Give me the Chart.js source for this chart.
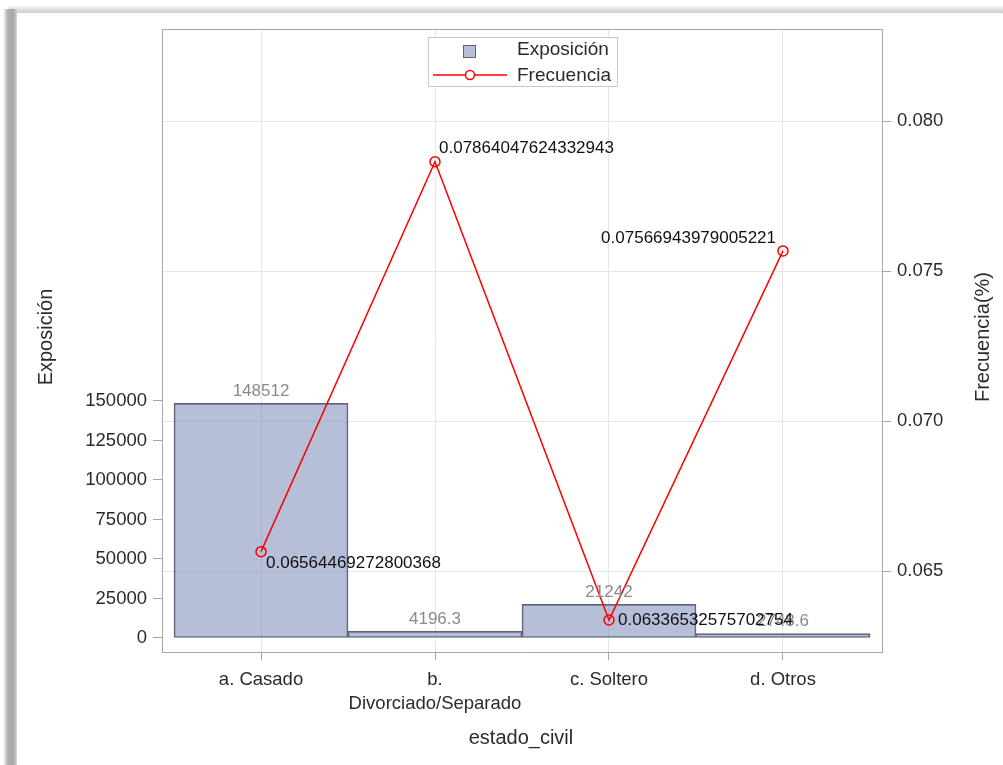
<!DOCTYPE html>
<html>
<head>
<meta charset="utf-8">
<script src="https://cdn.jsdelivr.net/npm/chart.js@4/dist/chart.umd.min.js"></script>
<style>
  html, body { margin: 0; padding: 0; background: #fff; }
  #wrap { position: relative; width: 1003px; height: 765px; overflow: hidden; }
  .shadow-top { position: absolute; left: 8px; top: 6px; width: 995px; height: 7px;
    background: linear-gradient(to bottom, #f4f4f4, #cdcdcd); }
  .shadow-left { position: absolute; left: 4px; top: 9px; width: 13px; height: 756px;
    background: linear-gradient(to right, #ececec, #b0b0b0 30%, #a8a8a8 75%, #d8d8d8); }
  canvas { position: absolute; left: 0; top: 0; }
</style>
</head>
<body>
<div id="wrap">
  <div class="shadow-top"></div>
  <div class="shadow-left"></div>
  <canvas id="chart" width="1003" height="765"></canvas>
</div>
<script>
// Exposure and claim frequency by marital status
const categories = [['a. Casado'], ['b.', 'Divorciado/Separado'], ['c. Soltero'], ['d. Otros']];
const exposicion = [148512, 4196.3, 21242, 2748.6];
const frecuencia = [0.06564469272800368, 0.07864047624332943, 0.06336532575702754, 0.07566943979005221];
const exposicionTicks = [0, 25000, 50000, 75000, 100000, 125000, 150000];
const frecuenciaTicks = [0.065, 0.070, 0.075, 0.080];

const FONT = '"Liberation Sans", Arial, sans-serif';
const FRAME = '#a3a7ab';
const GRID = '#e6e6e6';
const TEXT = '#2b2b2b';

// where each frequency label sits relative to its marker
const freqLabelPlacement = [
  { dx: 5, dy: 12, align: 'left' },
  { dx: 4, dy: -13, align: 'left' },
  { dx: 9, dy: 0, align: 'left' },
  { dx: -7, dy: -13, align: 'right' }
];

const decor = {
  id: 'decor',
  afterDatasetsDraw(chart) {
    const ctx = chart.ctx;
    ctx.save();
    ctx.textBaseline = 'middle';
    // bar value labels
    ctx.font = '17px ' + FONT;
    ctx.fillStyle = '#8a8a8a';
    ctx.textAlign = 'center';
    chart.getDatasetMeta(0).data.forEach((bar, i) => {
      ctx.fillText(String(exposicion[i]), bar.x, bar.y - 12);
    });
    // frequency labels
    ctx.fillStyle = '#111111';
    chart.getDatasetMeta(1).data.forEach((pt, i) => {
      const p = freqLabelPlacement[i];
      ctx.textAlign = p.align;
      ctx.fillText(String(frecuencia[i]), pt.x + p.dx, pt.y + p.dy);
    });
    ctx.restore();
  },
  afterDraw(chart) {
    const ctx = chart.ctx;
    const a = chart.chartArea;
    ctx.save();
    // top edge of the plot frame
    ctx.strokeStyle = FRAME;
    ctx.lineWidth = 1;
    ctx.beginPath();
    ctx.moveTo(a.left, a.top + 0.5);
    ctx.lineTo(a.right, a.top + 0.5);
    ctx.stroke();

    // legend
    const lx = 428, ly = 37, lw = 189, lh = 49;
    ctx.fillStyle = '#ffffff';
    ctx.fillRect(lx, ly, lw, lh);
    ctx.strokeStyle = '#c8c8c8';
    ctx.strokeRect(lx + 0.5, ly + 0.5, lw, lh);
    ctx.fillStyle = 'rgba(112,125,178,0.5)';
    ctx.fillRect(463, 45, 13, 13);
    ctx.strokeStyle = '#5f6373';
    ctx.strokeRect(463.5, 45.5, 12, 12);
    ctx.strokeStyle = '#ff0000';
    ctx.lineWidth = 1.5;
    ctx.beginPath();
    ctx.moveTo(433, 75);
    ctx.lineTo(507, 75);
    ctx.stroke();
    ctx.fillStyle = '#ffffff';
    ctx.beginPath();
    ctx.arc(470, 75, 4.5, 0, Math.PI * 2);
    ctx.fill();
    ctx.stroke();
    ctx.fillStyle = TEXT;
    ctx.font = '19px ' + FONT;
    ctx.textAlign = 'left';
    ctx.textBaseline = 'middle';
    ctx.fillText('Exposición', 517, 50);
    ctx.fillText('Frecuencia', 517, 76);

    // axis titles
    ctx.font = '20px ' + FONT;
    ctx.textAlign = 'center';
    ctx.fillText('estado_civil', 521, 738);
    ctx.translate(46, 337);
    ctx.rotate(-Math.PI / 2);
    ctx.fillText('Exposición', 0, 0);
    ctx.setTransform(1, 0, 0, 1, 0, 0);
    ctx.translate(983, 337);
    ctx.rotate(-Math.PI / 2);
    ctx.fillText('Frecuencia(%)', 0, 0);
    ctx.restore();
  }
};

new Chart(document.getElementById('chart'), {
  type: 'bar',
  data: {
    datasets: [
      {
        type: 'bar',
        label: 'Exposición',
        data: exposicion.map((v, i) => ({ x: i, y: v })),
        xAxisID: 'x',
        yAxisID: 'y',
        backgroundColor: 'rgba(112,125,178,0.5)',
        borderColor: '#5f6373',
        borderWidth: 1,
        borderSkipped: false,
        barPercentage: 1,
        categoryPercentage: 1,
        order: 2
      },
      {
        type: 'line',
        label: 'Frecuencia',
        data: frecuencia.map((v, i) => ({ x: i, y: v })),
        xAxisID: 'x',
        yAxisID: 'y1',
        borderColor: '#ff0000',
        borderWidth: 1.5,
        pointRadius: 5,
        pointBorderWidth: 1.5,
        pointBorderColor: '#ff0000',
        pointBackgroundColor: 'rgba(0,0,0,0)',
        tension: 0,
        order: 1
      }
    ]
  },
  options: {
    responsive: false,
    animation: false,
    devicePixelRatio: 1,
    layout: { padding: { top: 29, left: 0, right: 0, bottom: 0 } },
    plugins: { legend: { display: false }, tooltip: { enabled: false } },
    scales: {
      x: {
        type: 'linear',
        min: -0.569,
        max: 3.569,
        offset: false,
        afterBuildTicks: s => { s.ticks = categories.map((_, i) => ({ value: i })); },
        afterFit: s => { s.height = 113; },
        ticks: {
          callback: v => categories[v],
          font: { family: FONT, size: 18.5, lineHeight: 1.3 },
          color: TEXT,
          padding: 8,
          maxRotation: 0,
          autoSkip: false
        },
        grid: { offset: false, color: GRID, tickColor: FRAME, tickLength: 8, drawOnChartArea: true },
        border: { color: FRAME, width: 1 }
      },
      y: {
        type: 'linear',
        position: 'left',
        min: -8861,
        max: 385443,
        afterBuildTicks: s => { s.ticks = exposicionTicks.map(v => ({ value: v })); },
        afterFit: s => { s.width = 162; },
        ticks: {
          callback: v => String(v),
          font: { family: FONT, size: 18.5 },
          color: TEXT,
          padding: 6
        },
        grid: { drawOnChartArea: false, tickColor: FRAME, tickLength: 9 },
        border: { color: FRAME, width: 1 }
      },
      y1: {
        type: 'linear',
        position: 'right',
        min: 0.0623,
        max: 0.083067,
        afterBuildTicks: s => { s.ticks = frecuenciaTicks.map(v => ({ value: v })); },
        afterFit: s => { s.width = 121; },
        ticks: {
          callback: v => v.toFixed(3),
          font: { family: FONT, size: 18.5 },
          color: TEXT,
          padding: 6
        },
        grid: { color: GRID, drawOnChartArea: true, tickColor: FRAME, tickLength: 9 },
        border: { color: FRAME, width: 1 }
      }
    }
  },
  plugins: [decor]
});
</script>
</body>
</html>
